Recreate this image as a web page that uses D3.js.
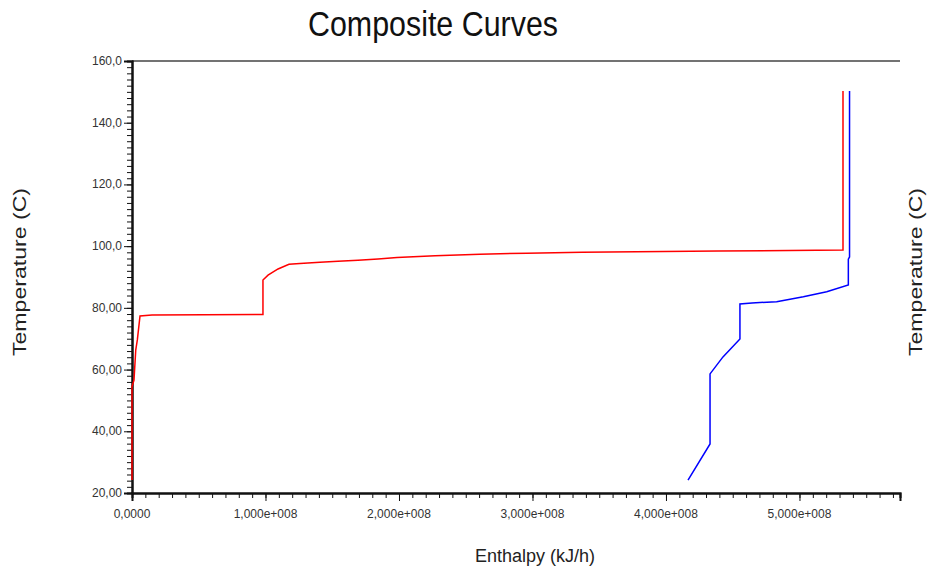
<!DOCTYPE html>
<html lang="en">
<head>
    <meta charset="UTF-8">
    <title>Composite Curves</title>
    <script src="https://d3js.org/d3.v7.min.js"></script>
    <style>
        body { margin: 0; background: #fff; }
        .tick-label { font-family: "Liberation Sans", Arial, sans-serif; font-size: 12px; fill: #333; }
        .axis-title { font-family: "Liberation Sans", Arial, sans-serif; font-size: 18px; fill: #222; }
    </style>
</head>
<body>
    <svg width="928" height="575"></svg>
    <script>
        // Hot composite curve (red): enthalpy in kJ/h, temperature in C
        const hotH = [0, 0, 0.015e8, 0.028e8, 0.040e8, 0.060e8, 0.150e8, 0.981e8, 0.981e8, 1.019e8, 1.094e8,
            1.176e8, 1.258e8, 1.408e8, 1.543e8, 1.693e8, 1.843e8, 1.985e8, 2.270e8, 2.607e8, 2.959e8,
            3.371e8, 4.390e8, 5.326e8, 5.326e8];
        const hotT = [24.2, 54.4, 56.6, 66.3, 69.6, 77.4, 77.7, 77.85, 89.0, 90.6, 92.6,
            94.1, 94.4, 94.8, 95.1, 95.4, 95.8, 96.3, 96.9, 97.4, 97.7,
            98.0, 98.4, 98.75, 150.3];

        // Cold composite curve (blue)
        const coldH = [4.165e8, 4.330e8, 4.330e8, 4.427e8, 4.554e8, 4.554e8, 4.644e8, 4.829e8, 5.029e8,
            5.204e8, 5.366e8, 5.366e8, 5.375e8, 5.375e8];
        const coldT = [24.2, 35.9, 58.6, 64.1, 69.9, 81.25, 81.6, 82.0, 83.6,
            85.2, 87.4, 95.8, 96.5, 150.3];

        const xTicks = [0, 1e8, 2e8, 3e8, 4e8, 5e8];
        const xTickLabels = ["0,0000", "1,000e+008", "2,000e+008", "3,000e+008", "4,000e+008", "5,000e+008"];
        const yTicks = [20, 40, 60, 80, 100, 120, 140, 160];
        const yTickLabels = ["20,00", "40,00", "60,00", "80,00", "100,0", "120,0", "140,0", "160,0"];

        const svg = d3.select("svg");
        const plotLeft = 132, plotRight = 900, plotTop = 61, plotBottom = 493;

        const x = d3.scaleLinear().domain([0, 5.753e8]).range([plotLeft, plotRight]);
        const y = d3.scaleLinear().domain([20, 160]).range([plotBottom, plotTop]);

        // title (narrow face, squeezed to the original width)
        svg.append("text")
            .attr("x", 433).attr("y", 36)
            .attr("text-anchor", "middle")
            .attr("textLength", 250)
            .attr("lengthAdjust", "spacingAndGlyphs")
            .style("font-family", "'Liberation Sans Narrow', 'Liberation Sans', Arial, sans-serif")
            .style("font-size", "35px")
            .attr("fill", "#111")
            .text("Composite Curves");

        // top border line
        svg.append("line")
            .attr("x1", plotLeft).attr("x2", plotRight)
            .attr("y1", plotTop).attr("y2", plotTop)
            .attr("stroke", "#444").attr("stroke-width", 1.5);

        // x axis: minor every 1e7, labelled every 1e8
        const xAxis = svg.append("g").attr("transform", `translate(0,${plotBottom})`);
        xAxis.call(d3.axisBottom(x).tickValues(d3.range(0, 5.75e8, 1e7)).tickSize(5).tickFormat(""));
        xAxis.append("g").call(d3.axisBottom(x).tickValues(xTicks).tickSize(8).tickFormat(""));
        xAxis.selectAll(".domain").attr("stroke", "#111").attr("stroke-width", 2);
        xAxis.selectAll(".tick line").attr("stroke", "#111");
        xAxis.selectAll(".tick-lbl")
            .data(xTicks)
            .join("text")
            .attr("class", "tick-label")
            .attr("x", (d) => x(d))
            .attr("y", 25)
            .attr("text-anchor", "middle")
            .text((d, i) => xTickLabels[i]);

        // y axis: minor every 2, labelled every 20
        const yAxis = svg.append("g").attr("transform", `translate(${plotLeft},0)`);
        yAxis.call(d3.axisLeft(y).tickValues(d3.range(20, 161, 2)).tickSize(5).tickFormat(""));
        yAxis.append("g").call(d3.axisLeft(y).tickValues(yTicks).tickSize(8).tickFormat(""));
        yAxis.selectAll(".domain").attr("stroke", "#111").attr("stroke-width", 2);
        yAxis.selectAll(".tick line").attr("stroke", "#111");
        yAxis.selectAll(".tick-lbl")
            .data(yTicks)
            .join("text")
            .attr("class", "tick-label")
            .attr("x", -10)
            .attr("y", (d) => y(d) + 4)
            .attr("text-anchor", "end")
            .text((d, i) => yTickLabels[i]);

        // curves
        const line = d3.line().x((d) => x(d[0])).y((d) => y(d[1]));
        svg.append("path")
            .datum(hotH.map((h, i) => [h, hotT[i]]))
            .attr("fill", "none").attr("stroke", "#ff0000").attr("stroke-width", 1.5)
            .attr("d", line);
        svg.append("path")
            .datum(coldH.map((h, i) => [h, coldT[i]]))
            .attr("fill", "none").attr("stroke", "#0000ff").attr("stroke-width", 1.5)
            .attr("d", line);

        // axis titles
        svg.append("text").attr("class", "axis-title")
            .attr("x", 535).attr("y", 562)
            .attr("text-anchor", "middle")
            .text("Enthalpy (kJ/h)");
        svg.append("text").attr("class", "axis-title")
            .attr("transform", "translate(26,272) rotate(-90)")
            .attr("text-anchor", "middle")
            .attr("textLength", 168)
            .attr("lengthAdjust", "spacingAndGlyphs")
            .text("Temperature (C)");
        svg.append("text").attr("class", "axis-title")
            .attr("transform", "translate(922,272) rotate(-90)")
            .attr("text-anchor", "middle")
            .attr("textLength", 168)
            .attr("lengthAdjust", "spacingAndGlyphs")
            .text("Temperature (C)");
    </script>
</body>
</html>
